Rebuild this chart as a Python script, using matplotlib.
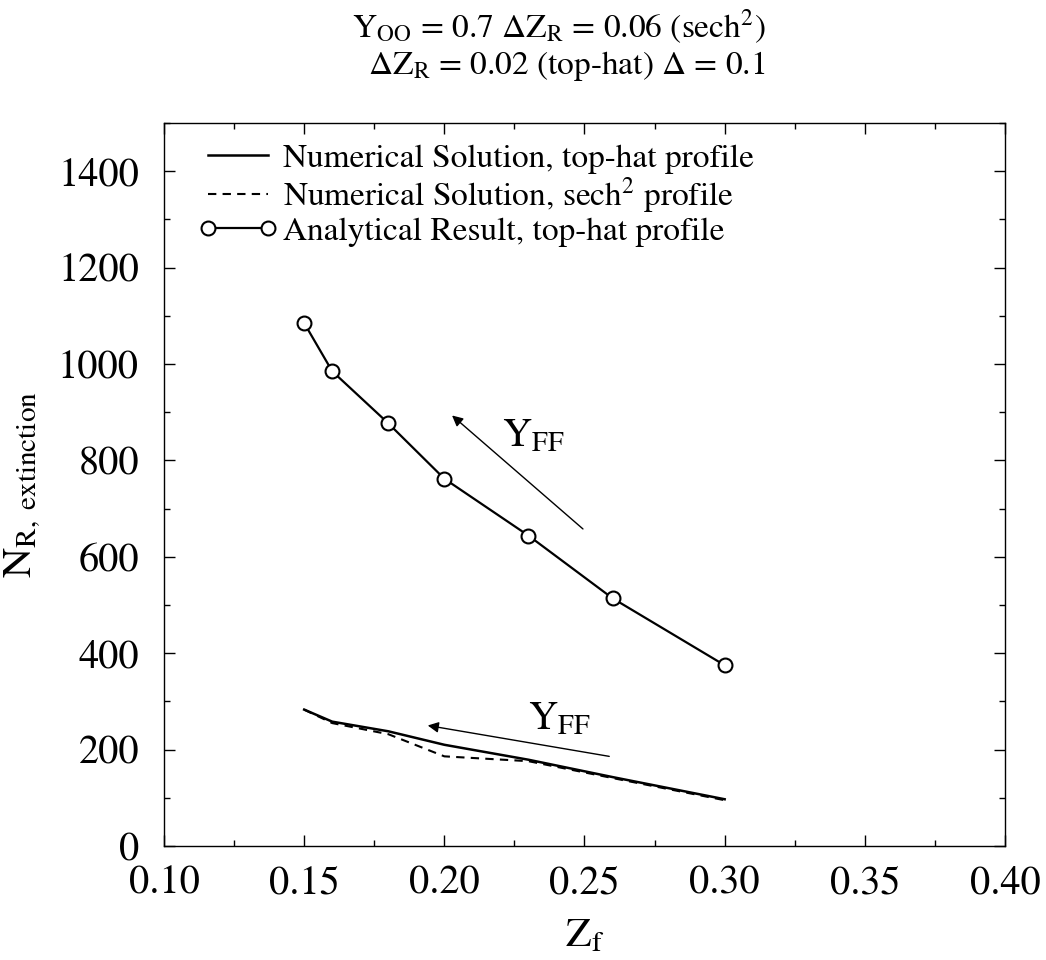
import matplotlib
matplotlib.use("Agg")
import matplotlib.pyplot as plt
from matplotlib.ticker import MultipleLocator

# values
z_f = [0.15, 0.16, 0.18, 0.20, 0.23, 0.26, 0.30]
n_analytic = [1085, 985, 877, 762, 644, 514, 375]
n_num_tophat = [283, 258, 238, 210, 179, 143, 97]
n_num_sech2 = [283, 255, 232, 186, 176, 141, 95]

plt.rcParams["font.family"] = ["STIXGeneral", "DejaVu Serif"]
plt.rcParams["mathtext.fontset"] = "stix"

fig = plt.figure(figsize=(10.46, 9.6), dpi=100)
ax = fig.add_axes([164 / 1046, 1 - 846 / 960, 841 / 1046, 723 / 960])

ax.plot(z_f, n_num_tophat, "-", color="black", lw=1.8,
        label="Numerical Solution, top-hat profile")
ax.plot(z_f, n_num_sech2, "--", color="black", lw=1.5, dashes=(4, 3),
        label="Numerical Solution, sech$^2$ profile")
ax.plot(z_f, n_analytic, "-o", color="black", lw=1.6, ms=10,
        mfc="white", mec="black", mew=1.5,
        label="Analytical Result, top-hat profile")

# Y_FF direction arrows
arrow = dict(arrowstyle="-|>", color="black", lw=1.0, mutation_scale=16)
ax.annotate("", xy=(0.202, 897), xytext=(0.2502, 654), arrowprops=arrow)
ax.annotate("", xy=(0.1931, 251), xytext=(0.2598, 185), arrowprops=arrow)
ax.text(0.2205, 850, r"$\mathrm{Y_{FF}}$", fontsize=29, ha="left", va="center")
ax.text(0.2300, 262, r"$\mathrm{Y_{FF}}$", fontsize=29, ha="left", va="center")

ax.set_xlim(0.10, 0.40)
ax.set_ylim(0, 1500)
ax.set_xticks([0.10, 0.15, 0.20, 0.25, 0.30, 0.35, 0.40])
ax.set_xticklabels(["0.10", "0.15", "0.20", "0.25", "0.30", "0.35", "0.40"])
ax.set_yticks(range(0, 1401, 200))
ax.xaxis.set_minor_locator(MultipleLocator(0.025))
ax.yaxis.set_minor_locator(MultipleLocator(100))
ax.tick_params(which="both", direction="in", top=True, right=True,
               labelsize=29, width=1)
ax.tick_params(axis="x", pad=14)
ax.tick_params(axis="y", pad=18)
ax.tick_params(which="major", length=8)
ax.tick_params(which="minor", length=4)
for s in ax.spines.values():
    s.set_linewidth(1.0)

ax.set_xlabel(r"$\mathrm{Z_f}$", fontsize=30, labelpad=11)
ax.set_ylabel(r"$\mathrm{N_{R,\ extinction}}$", fontsize=30, labelpad=11)

fig.text(0.534, 0.972, r"Y$_{\mathrm{OO}}$ = 0.7 $\Delta$Z$_{\mathrm{R}}$ = 0.06 (sech$^2$)",
         fontsize=24, ha="center", va="center")
fig.text(0.542, 0.931, r"$\Delta$Z$_{\mathrm{R}}$ = 0.02 (top-hat) $\Delta$ = 0.1",
         fontsize=24, ha="center", va="center")

ax.legend(loc="upper left", bbox_to_anchor=(0.04, 0.972), frameon=False,
          fontsize=24, handlelength=2.4, handletextpad=0.15, labelspacing=0.05,
          numpoints=2, borderpad=0, borderaxespad=0)

fig.savefig("out.png", dpi=100)
